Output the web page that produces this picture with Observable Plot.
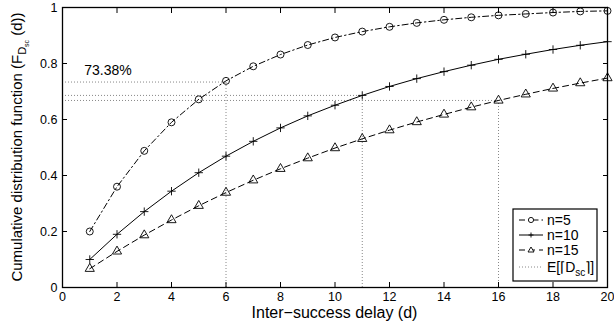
<!DOCTYPE html>
<html>
<head>
<meta charset="utf-8">
<script src="https://cdn.jsdelivr.net/npm/d3@7"></script>
<script src="https://cdn.jsdelivr.net/npm/@observablehq/plot@0.6"></script>
<style>
  html, body { margin: 0; padding: 0; background: #fff; }
  #chart { width: 614px; height: 330px; }
</style>
</head>
<body>
<div id="chart"></div>
<script>
// ---- Data ----
const delays = [1,2,3,4,5,6,7,8,9,10,11,12,13,14,15,16,17,18,19,20];
const n5  = [0.200,0.360,0.488,0.590,0.672,0.738,0.790,0.832,0.866,0.893,0.914,0.931,0.945,0.956,0.965,0.972,0.977,0.982,0.986,0.988];
const n10 = [0.100,0.190,0.271,0.344,0.410,0.469,0.522,0.570,0.613,0.651,0.686,0.718,0.746,0.771,0.794,0.815,0.833,0.850,0.865,0.878];
const n15 = [0.067,0.129,0.187,0.241,0.292,0.339,0.383,0.424,0.462,0.498,0.531,0.562,0.591,0.618,0.644,0.668,0.690,0.711,0.730,0.748];
const seriesNames = ["n=5", "n=10", "n=15"];
const refDelays = [6, 11, 16];
const refValues = [0.7338, 0.686, 0.668];
const refLabel = "73.38%";
const xTicks = [0,2,4,6,8,10,12,14,16,18,20];
const yTicks = [0,0.2,0.4,0.6,0.8,1];
const xLabel = "Inter\u2212success delay (d)";

// ---- Build tables ----
const seriesVals = [n5, n10, n15];
const rows = [];
seriesNames.forEach((name, i) => delays.forEach((d, j) => rows.push({series: name, d, f: seriesVals[i][j]})));
const refs = refDelays.map((d, i) => ({d, f: refValues[i]}));

const styles = {
  "n=5":  {dash: "6,3,1.5,3", symbol: "circle",   r: 3.5},
  "n=10": {dash: null,        symbol: "plus",     r: 2.8},
  "n=15": {dash: "6,4",       symbol: "triangle", r: 3.4}
};

const fmt = v => String(v);
const lineMarks = seriesNames.flatMap(name => {
  const data = rows.filter(r => r.series === name);
  return [
    Plot.line(data, {x: "d", y: "f", stroke: "#000", strokeWidth: 1, strokeDasharray: styles[name].dash}),
    Plot.dot(data, {x: "d", y: "f", symbol: styles[name].symbol, stroke: "#000", fill: "none", strokeWidth: 0.9, r: styles[name].r})
  ];
});

const chart = Plot.plot({
  width: 614, height: 330,
  marginLeft: 62, marginRight: 7, marginTop: 7, marginBottom: 43,
  x: {domain: [0, 20]},
  y: {domain: [0, 1]},
  style: {fontFamily: "'Liberation Sans', Arial, Helvetica, sans-serif", fontSize: "12px", color: "#000", background: "#fff"},
  marks: [
    Plot.ruleY(refs, {y: "f", x1: 0, x2: "d", stroke: "#888", strokeDasharray: "1,2", strokeWidth: 1}),
    Plot.ruleX(refs, {x: "d", y1: 0, y2: "f", stroke: "#888", strokeDasharray: "1,2", strokeWidth: 1}),
    Plot.text([refs[0]], {x: 0.8, y: "f", text: () => refLabel, dy: -12, textAnchor: "start", fontSize: 14, fill: "#000"}),
    ...lineMarks,
    Plot.axisX({ticks: xTicks, tickSize: -5, tickPadding: 10, tickFormat: fmt, label: null, fontSize: 12.5}),
    Plot.axisX({anchor: "top", ticks: xTicks, tickSize: -5, tickFormat: () => "", label: null}),
    Plot.axisY({ticks: yTicks, tickSize: -5, tickPadding: 10, tickFormat: fmt, label: null, fontSize: 12.5}),
    Plot.axisY({anchor: "right", ticks: yTicks, tickSize: -5, tickFormat: () => "", label: null}),
    Plot.frame({stroke: "#000", strokeWidth: 1.3})
  ]
});

document.getElementById("chart").appendChild(chart);

// ---- Axis labels and legend (text with subscripts) ----
const svg = d3.select(chart);
const W = 614, H = 330, mL = 62, mR = 7, mT = 7, mB = 43;

svg.append("text")
  .attr("x", mL + (W - mL - mR) / 2).attr("y", H - 12)
  .attr("text-anchor", "middle").attr("font-size", 16).attr("fill", "#000")
  .text(xLabel);

const yl = svg.append("text")
  .attr("transform", `translate(22,${mT + (H - mT - mB) / 2}) rotate(-90)`)
  .attr("text-anchor", "middle").attr("font-size", 15).attr("fill", "#000");
yl.append("tspan").text("Cumulative distribution function (F");
yl.append("tspan").attr("font-size", 11).attr("dy", 4).text("D");
yl.append("tspan").attr("font-size", 7).attr("dy", 3).text("sc");
yl.append("tspan").attr("dy", -7).text(" (d))");

// legend
const lg = svg.append("g").attr("transform", "translate(513,209)");
lg.append("rect").attr("width", 84).attr("height", 72).attr("fill", "#fff").attr("stroke", "#000").attr("stroke-width", 1.2);
const legendEntries = [
  ...seriesNames.map(name => ({label: name, dash: styles[name].dash, symbol: styles[name].symbol, stroke: "#000"})),
  {label: null, dash: "1,2", symbol: null, stroke: "#888"}
];
legendEntries.forEach((e, i) => {
  const y = i < 3 ? 11 + i * 15 : 58;
  lg.append("line").attr("x1", 6).attr("x2", 30).attr("y1", y).attr("y2", y)
    .attr("stroke", e.stroke).attr("stroke-width", 1).attr("stroke-dasharray", e.dash);
  if (e.symbol === "circle") {
    lg.append("circle").attr("cx", 18).attr("cy", y).attr("r", 2.6).attr("fill", "#fff").attr("stroke", "#000").attr("stroke-width", 0.9);
  } else if (e.symbol === "plus") {
    lg.append("path").attr("d", `M15.5,${y}h5M18,${y-2.5}v5`).attr("stroke", "#000").attr("stroke-width", 0.9);
  } else if (e.symbol === "triangle") {
    lg.append("path").attr("d", `M18,${y-3}L21,${y+2}L15,${y+2}Z`).attr("fill", "#fff").attr("stroke", "#000").attr("stroke-width", 0.9);
  }
  const t = lg.append("text").attr("x", 34).attr("y", y + 5).attr("font-size", 14)
    .attr("text-anchor", "start").attr("fill", "#000");
  if (e.label) t.text(e.label);
  else {
    t.append("tspan").text("E[\u2308D");
    t.append("tspan").attr("font-size", 10).attr("dy", 4).text("sc");
    t.append("tspan").attr("dy", -4).text("\u2309]");
  }
});
</script>
</body>
</html>
